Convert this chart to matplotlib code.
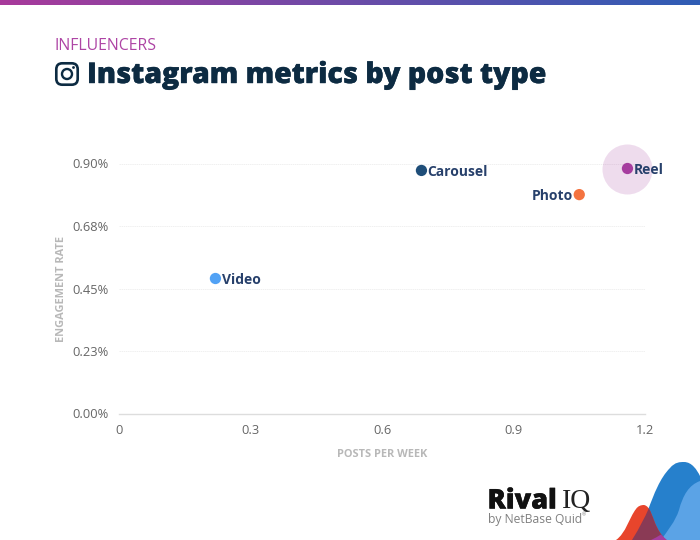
import numpy as np
import matplotlib
matplotlib.use("Agg")
import matplotlib.pyplot as plt
import matplotlib.patheffects as pe
from matplotlib.colors import LinearSegmentedColormap
from matplotlib.path import Path
from matplotlib.patches import PathPatch, FancyBboxPatch, Circle

plt.rcParams['font.family'] = ['Open Sans', 'DejaVu Sans']

# Data
post_types = ["Video", "Carousel", "Photo", "Reel"]
posts_per_week = [0.22, 0.69, 1.05, 1.16]
engagement_rate = [0.486, 0.875, 0.788, 0.882]
colors = ["#52A2F5", "#1F4E79", "#F47340", "#A63D9F"]
x_ticks = [0, 0.3, 0.6, 0.9, 1.2]
x_tick_labels = ["0", "0.3", "0.6", "0.9", "1.2"]
y_ticks = [0, 0.225, 0.45, 0.675, 0.9]
y_tick_labels = ["0.00%", "0.23%", "0.45%", "0.68%", "0.90%"]

W, H = 700, 540
fig = plt.figure(figsize=(W / 100, H / 100), dpi=100, facecolor="white")

# Decoration layer in pixel coordinates
bg = fig.add_axes([0, 0, 1, 1], zorder=0)
bg.axis("off")
cmap = LinearSegmentedColormap.from_list("bar", ["#A83A9B", "#2F5DB5"])
bg.imshow(np.linspace(0, 1, 256)[None, :], cmap=cmap, extent=(0, W, 5.5, 0), aspect="auto")
bg.set_xlim(0, W)
bg.set_ylim(H, 0)

bg.text(54.5, 45.5, "INFLUENCERS", color="#AE45A5", fontsize=11.4, va="center", ha="left")
bg.text(87, 75.5, "Instagram metrics by post type", color="#0D2B42", fontsize=20.5,
        fontweight="heavy", va="center", ha="left",
        path_effects=[pe.withStroke(linewidth=0.3, foreground="#0D2B42")])

ink = "#0D2B42"
bg.add_patch(FancyBboxPatch((56.3, 63.3), 21.4, 21.4, boxstyle="round,pad=0,rounding_size=6",
                            fc="none", ec=ink, lw=1.9))
bg.add_patch(Circle((67, 74), 5.0, fc="none", ec=ink, lw=1.7))
bg.add_patch(Circle((73.5, 67.5), 1.4, fc=ink, ec="none"))


def blob(points):
    codes = [Path.MOVETO] + [Path.CURVE4] * (len(points) - 1) + [Path.CLOSEPOLY]
    return Path(points + [points[0]], codes)


blue = [(632, 540), (640, 527), (645, 517), (648, 510), (654, 494), (660, 478), (670, 468),
        (675, 462), (680, 462), (684, 462), (692, 462), (697, 470), (700, 476),
        (700, 500), (700, 520), (700, 540)]
light = [(661, 540), (668, 530), (675, 522), (679, 510), (683, 495), (689, 485), (700, 481),
         (700, 500), (700, 520), (700, 540), (690, 540), (675, 540), (661, 540)]
red = [(616, 540), (626, 533), (629, 518), (636, 509), (638, 506), (641, 505), (644, 505),
       (650, 506), (652, 516), (655, 523), (658, 530), (661, 535), (666, 540),
       (650, 540), (630, 540), (616, 540)]
bp = blob(blue)
bg.add_patch(PathPatch(bp, fc="#2680CC", ec="none"))
bg.add_patch(PathPatch(blob(light), fc="#5BA3E6", ec="none"))
bg.add_patch(PathPatch(blob(red), fc="#E8452C", ec="none"))
m = PathPatch(blob(red), fc="#8A3A55", ec="none")
bg.add_patch(m)
m.set_clip_path(PathPatch(bp, transform=bg.transData))
purple_x = [651, 656, 661, 664, 667]
purple_y = [540, 537.5, 534.5, 537.5, 540]
bg.fill(purple_x, purple_y, color="#A63D9F", lw=0)

bg.text(487.5, 501.5, "Rival", color="#111111", fontsize=19.5, fontweight="heavy", va="center", ha="left",
        path_effects=[pe.withStroke(linewidth=0.3, foreground="#111111")])
bg.text(561.5, 501, "IQ", color="#222222", fontsize=20, family="Liberation Serif", va="center", ha="left")
bg.text(488.5, 520, "by NetBase Quid", color="#808080", fontsize=8.7, va="center", ha="left")
bg.text(581.8, 515, "®", color="#808080", fontsize=3.5, va="center", ha="left")

# Chart
left, right, top, bottom = 119, 645, 163.5, 413.5
ax = fig.add_axes([left / W, 1 - bottom / H, (right - left) / W, (bottom - top) / H], zorder=1)
ax.patch.set_alpha(0)
ax.set_xlim(0, 1.2)
ax.set_ylim(0, 0.9)
for s in ["top", "right", "left"]:
    ax.spines[s].set_visible(False)
ax.spines["bottom"].set_color("#DDDDDD")
ax.spines["bottom"].set_linewidth(1.0)
ax.set_xticks(x_ticks, x_tick_labels)
ax.set_yticks(y_ticks, y_tick_labels)
ax.tick_params(length=0, labelsize=9.3, labelcolor="#666666")
ax.tick_params(axis="x", pad=7.5)
ax.tick_params(axis="y", pad=7.5)
ax.grid(axis="y", color="#F0F0F0", lw=0.7, linestyle=(0, (1.5, 0.7)))
ax.set_axisbelow(True)
ax.set_xlabel("POSTS PER WEEK", fontsize=7.9, fontweight="bold", color="#B8B8B8", labelpad=9)
ax.set_ylabel("ENGAGEMENT RATE", fontsize=7.9, fontweight="bold", color="#B8B8B8", labelpad=3.5)

reel = post_types.index("Reel")
ax.scatter([posts_per_week[reel]], [engagement_rate[reel]], s=1296, color=colors[reel],
           alpha=0.18, linewidths=0, clip_on=False, zorder=3)
ax.scatter(posts_per_week, engagement_rate, s=66, c=colors, linewidths=0, clip_on=False, zorder=4)
for name, x, y in zip(post_types, posts_per_week, engagement_rate):
    before = name == "Photo"
    ax.annotate(name, (x, y), xytext=(-4.2 if before else 4.4, -1), textcoords="offset points",
                ha="right" if before else "left", va="center", fontsize=10,
                fontweight="bold", color="#27406B", zorder=5)

fig.savefig("out.png", dpi=100)
